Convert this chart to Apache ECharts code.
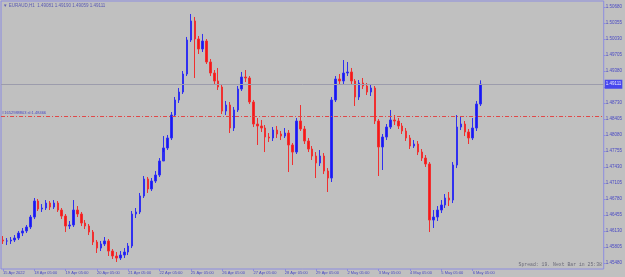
<!DOCTYPE html>
<html>
<head>
<meta charset="utf-8">
<script src="https://cdn.jsdelivr.net/npm/echarts/dist/echarts.min.js"></script>
<style>
  html, body { margin: 0; padding: 0; background: #c0c0c0; }
  #chart { width: 625px; height: 277px; }
</style>
</head>
<body>
<div id="chart"></div>
<script>
// EURAUD H1 (one candle per 3 hours)
const dayNames = ['15 Apr', '18 Apr', '19 Apr', '20 Apr', '21 Apr', '22 Apr', '25 Apr', '26 Apr', '27 Apr', '28 Apr',
  '29 Apr', '2 May', '3 May', '4 May', '5 May', '6 May', '9 May', '10 May', '11 May', '12 May'];
const hourNames = ['05:00', '08:00', '11:00', '14:00', '17:00', '20:00', '23:00', '02:00'];

const openPrices = [
  1.45947, 1.45927, 1.45927, 1.45947, 1.45987, 1.46089, 1.46130, 1.46211, 1.46414, 1.46739,
  1.46577, 1.46597, 1.46698, 1.46617, 1.46698, 1.46556, 1.46434, 1.46231, 1.46252, 1.46556,
  1.46475, 1.46292, 1.46231, 1.46109, 1.45906, 1.45784, 1.45866, 1.45927, 1.45723, 1.45622,
  1.45581, 1.45642, 1.45703, 1.45825, 1.46475, 1.46516, 1.46841, 1.47186, 1.46983, 1.47145,
  1.47267, 1.47552, 1.47816, 1.48019, 1.48486, 1.48791, 1.48953, 1.49319, 1.50010, 1.50396,
  1.50030, 1.49827, 1.49989, 1.49563, 1.49339, 1.49177, 1.49055, 1.48567, 1.48689, 1.48222,
  1.48588, 1.49014, 1.49258, 1.49238, 1.48750, 1.48303, 1.48263, 1.48222, 1.48039, 1.48019,
  1.48181, 1.48100, 1.48059, 1.48120, 1.47877, 1.47734, 1.48364, 1.48202, 1.47958, 1.47795,
  1.47653, 1.47511, 1.47653, 1.47348, 1.47206, 1.48791, 1.49217, 1.49177, 1.49339, 1.49360,
  1.49177, 1.48852, 1.49136, 1.49075, 1.48953, 1.49035, 1.48364, 1.47836, 1.48039, 1.48242,
  1.48385, 1.48364, 1.48263, 1.48161, 1.48019, 1.47856, 1.47897, 1.47734, 1.47612, 1.47491,
  1.46353, 1.46414, 1.46556, 1.46658, 1.46800, 1.46759, 1.47470, 1.48242, 1.48303, 1.48141,
  1.48019, 1.48222, 1.48709
];
const closePrices = [
  1.45927, 1.45927, 1.45947, 1.45987, 1.46089, 1.46130, 1.46211, 1.46414, 1.46739, 1.46577,
  1.46597, 1.46698, 1.46617, 1.46698, 1.46556, 1.46434, 1.46231, 1.46252, 1.46556, 1.46475,
  1.46292, 1.46231, 1.46109, 1.45906, 1.45784, 1.45866, 1.45927, 1.45723, 1.45622, 1.45581,
  1.45642, 1.45703, 1.45825, 1.46475, 1.46516, 1.46841, 1.47186, 1.46983, 1.47145, 1.47267,
  1.47552, 1.47816, 1.48019, 1.48486, 1.48791, 1.48953, 1.49319, 1.50010, 1.50396, 1.50030,
  1.49827, 1.49989, 1.49563, 1.49339, 1.49177, 1.49055, 1.48567, 1.48689, 1.48222, 1.48588,
  1.49014, 1.49258, 1.49238, 1.48750, 1.48303, 1.48263, 1.48222, 1.48039, 1.48019, 1.48181,
  1.48100, 1.48059, 1.48120, 1.47877, 1.47734, 1.48364, 1.48202, 1.47958, 1.47795, 1.47653,
  1.47511, 1.47653, 1.47348, 1.47206, 1.48791, 1.49217, 1.49177, 1.49339, 1.49360, 1.49177,
  1.48852, 1.49136, 1.49075, 1.48953, 1.49035, 1.48364, 1.47836, 1.48039, 1.48242, 1.48385,
  1.48364, 1.48263, 1.48161, 1.48019, 1.47856, 1.47897, 1.47734, 1.47612, 1.47491, 1.46353,
  1.46414, 1.46556, 1.46658, 1.46800, 1.46759, 1.47470, 1.48242, 1.48303, 1.48141, 1.48019,
  1.48222, 1.48709, 1.49111
];
const highPrices = [
  1.46028, 1.45987, 1.46008, 1.46048, 1.46130, 1.46191, 1.46252, 1.46455, 1.46800, 1.46780,
  1.46678, 1.46759, 1.46739, 1.46759, 1.46739, 1.46597, 1.46475, 1.46333, 1.46759, 1.46637,
  1.46516, 1.46353, 1.46272, 1.46150, 1.45947, 1.45927, 1.46008, 1.45967, 1.45764, 1.45703,
  1.45723, 1.45784, 1.45886, 1.46536, 1.46597, 1.46902, 1.47247, 1.47227, 1.47206, 1.47348,
  1.47612, 1.48059, 1.48080, 1.48547, 1.48852, 1.49035, 1.49380, 1.50071, 1.50538, 1.50477,
  1.50091, 1.50132, 1.50030, 1.49624, 1.49400, 1.49441, 1.49116, 1.48771, 1.48750, 1.48649,
  1.49075, 1.49360, 1.49400, 1.49278, 1.48791, 1.48425, 1.48385, 1.48283, 1.48120, 1.48242,
  1.48263, 1.48161, 1.48222, 1.48181, 1.47917, 1.48425, 1.48689, 1.48263, 1.48019, 1.47856,
  1.47734, 1.47775, 1.47714, 1.47409, 1.48852, 1.49278, 1.49319, 1.49603, 1.49563, 1.49441,
  1.49217, 1.49197, 1.49238, 1.49136, 1.49116, 1.49075, 1.48405, 1.48100, 1.48303, 1.48588,
  1.48486, 1.48425, 1.48324, 1.48222, 1.48080, 1.47978, 1.47958, 1.47795, 1.47673, 1.47531,
  1.46556, 1.46637, 1.46759, 1.46881, 1.46922, 1.47531, 1.48486, 1.48446, 1.48364, 1.48202,
  1.48425, 1.48771, 1.49190
];
const lowPrices = [
  1.45866, 1.45845, 1.45866, 1.45906, 1.45947, 1.46028, 1.46089, 1.46170, 1.46373, 1.46536,
  1.46516, 1.46556, 1.46556, 1.46577, 1.46516, 1.46373, 1.46109, 1.46170, 1.46211, 1.46414,
  1.46231, 1.46170, 1.46048, 1.45845, 1.45683, 1.45723, 1.45825, 1.45622, 1.45561, 1.45500,
  1.45541, 1.45581, 1.45642, 1.45784, 1.46394, 1.46475, 1.46800, 1.46902, 1.46942, 1.47105,
  1.47227, 1.47734, 1.47775, 1.47978, 1.48446, 1.48730, 1.48913, 1.49278, 1.49969, 1.49238,
  1.49725, 1.49766, 1.49522, 1.49278, 1.49116, 1.48994, 1.48506, 1.48486, 1.48120, 1.48161,
  1.48547, 1.48974, 1.49156, 1.48709, 1.48242, 1.47877, 1.48141, 1.47734, 1.47937, 1.47958,
  1.48019, 1.47978, 1.48019, 1.47328, 1.47470, 1.47694, 1.48161, 1.47897, 1.47734, 1.47572,
  1.47206, 1.47450, 1.47287, 1.46922, 1.47125, 1.48750, 1.49116, 1.49116, 1.49278, 1.49116,
  1.48669, 1.48791, 1.49014, 1.48892, 1.48872, 1.48303, 1.47247, 1.47369, 1.47978, 1.48202,
  1.48283, 1.48202, 1.48100, 1.47958, 1.47795, 1.47816, 1.47673, 1.47552, 1.47430, 1.46109,
  1.46191, 1.46333, 1.46495, 1.46597, 1.46637, 1.46698, 1.47409, 1.48181, 1.48059, 1.47897,
  1.47978, 1.48161, 1.48669
];

const priceTicks = [1.45480, 1.45805, 1.46130, 1.46455, 1.46780, 1.47105, 1.47430, 1.47755, 1.48080,
  1.48405, 1.48730, 1.49055, 1.49380, 1.49705, 1.50030, 1.50355, 1.50680];

const bidPrice = 1.49111;
const stopLoss = 1.48466;
const headerText = '\u25BC EURAUD,H1  1.49081 1.49190 1.49059 1.49111';
const statusText = 'Spread: 19. Next Bar in 25:38';

const categories = [];
for (let d = 0; d < dayNames.length; d++) {
  for (let h = 0; h < hourNames.length; h++) {
    categories.push(dayNames[d] + ' ' + hourNames[h]);
  }
}
const slots = categories.slice(0, 154);

const candles = openPrices.map((o, i) => [o, closePrices[i], lowPrices[i], highPrices[i]]);

const axisColor = '#8c8ce0';
const textColor = '#4848c4';
const dayTick = (i) => i % 8 === 0 && i < candles.length;

const chart = echarts.init(document.getElementById('chart'), null, { renderer: 'canvas' });
chart.setOption({
  animation: false,
  backgroundColor: '#c0c0c0',
  grid: {
    left: 0, right: 21, top: 1, bottom: 8,
    show: true, borderColor: axisColor, borderWidth: 1, backgroundColor: 'transparent'
  },
  xAxis: {
    type: 'category',
    data: slots,
    boundaryGap: true,
    axisLine: { show: false },
    axisTick: { show: true, interval: dayTick, alignWithLabel: true, length: 2, lineStyle: { color: axisColor } },
    axisLabel: {
      interval: dayTick,
      align: 'left',
      margin: 2,
      fontSize: 4,
      fontFamily: 'Liberation Sans',
      color: textColor,
      formatter: (v, i) => (i === 0 ? '15 Apr 2022' : v)
    },
    splitLine: { show: false }
  },
  yAxis: {
    type: 'value',
    position: 'right',
    min: 1.4535812,
    max: 1.5080188,
    axisLine: { show: false },
    axisTick: { show: true, customValues: priceTicks, length: 2, lineStyle: { color: axisColor } },
    axisLabel: {
      customValues: priceTicks,
      margin: 2,
      fontSize: 4.5,
      fontFamily: 'Liberation Sans',
      color: textColor,
      formatter: (v) => v.toFixed(5)
    },
    splitLine: { show: false }
  },
  series: [
    {
      type: 'candlestick',
      data: candles,
      barWidth: 2,
      itemStyle: {
        color: '#1818f4',
        color0: '#f41818',
        borderColor: '#3030f0',
        borderColor0: '#f03030',
        borderWidth: 1
      }
    },
    {
      // price lines: bid and stop loss
      type: 'line',
      data: slots.map(() => null),
      symbol: 'none',
      lineStyle: { opacity: 0 },
      markLine: {
        silent: true,
        symbol: 'none',
        precision: 5,
        data: [
          {
            yAxis: bidPrice,
            lineStyle: { color: '#9c9cac', type: 'solid', width: 1 },
            label: {
              position: 'end', distance: 1, formatter: bidPrice.toFixed(5),
              backgroundColor: '#4646ee', color: '#e8e8ff', fontSize: 4.5,
              fontFamily: 'Liberation Sans', padding: [2, 1, 2, 1]
            }
          },
          {
            yAxis: stopLoss,
            lineStyle: { color: '#e04848', type: [4, 2, 1, 2], width: 1 },
            label: {
              position: 'insideStartTop', distance: 1, formatter: '#1652988803 sl:' + stopLoss.toFixed(5),
              color: textColor, fontSize: 4, fontFamily: 'Liberation Sans'
            }
          }
        ]
      }
    }
  ],
  graphic: [
    {
      type: 'text', left: 3, top: 3,
      style: { text: headerText, fontSize: 4.5, fontFamily: 'Liberation Sans', fill: '#5a5ab4' }
    },
    {
      type: 'text', right: 23, top: 262,
      style: { text: statusText, fontSize: 4.8, fontFamily: 'Liberation Mono', fill: '#6a6a78' }
    }
  ]
});
</script>
</body>
</html>
